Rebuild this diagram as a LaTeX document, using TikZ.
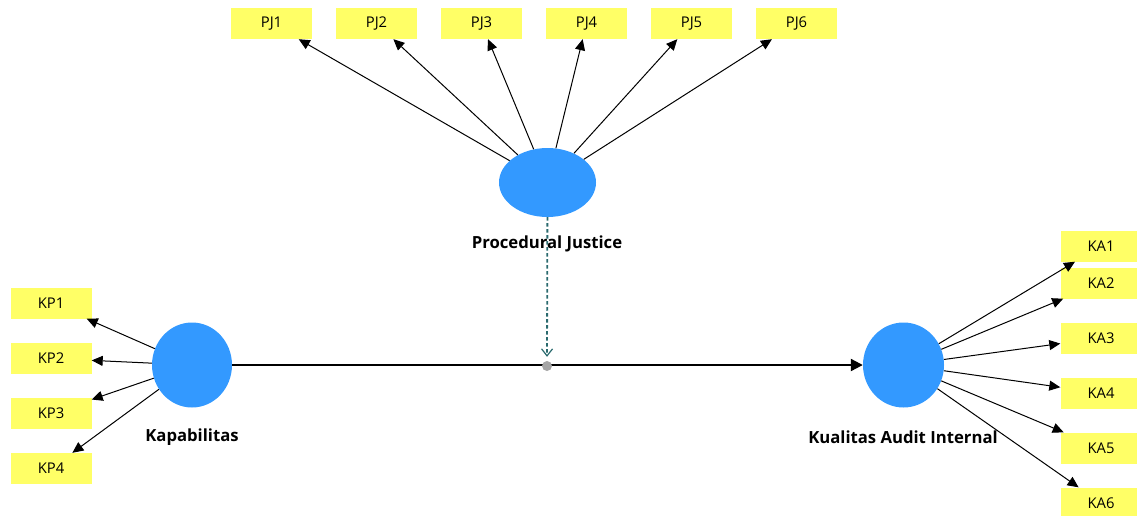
\documentclass[tikz,border=0pt]{standalone}
\usepackage{fontspec}
\setmainfont{Open Sans}
\usetikzlibrary{arrows.meta,shapes.geometric}
\definecolor{boxyellow}{HTML}{FFFF66}
\definecolor{lvblue}{HTML}{3399FF}
\definecolor{modteal}{HTML}{2A6A6E}
\definecolor{dotgray}{HTML}{A6A6A6}
\begin{document}
\begin{tikzpicture}[x=1pt,y=-1pt,
  ind/.style={rectangle, fill=boxyellow, minimum width=81pt, minimum height=31pt, inner sep=0pt, font=\fontsize{14.8}{17}\selectfont},
  lv/.style={ellipse, fill=lvblue, inner sep=0pt},
  lab/.style={font=\bfseries\fontsize{16.7}{19}\selectfont, inner sep=0pt},
  load/.style={-{Triangle[length=11pt,width=10pt]}, line width=1pt, black},
]
\useasboundingbox (0,0) rectangle (1137,515);
% indicators
\node[ind] (PJ1) at (271.5,23.5) {PJ1};
\node[ind] (PJ2) at (376.5,23.5) {PJ2};
\node[ind] (PJ3) at (481.5,23.5) {PJ3};
\node[ind] (PJ4) at (586.5,23.5) {PJ4};
\node[ind] (PJ5) at (691.5,23.5) {PJ5};
\node[ind] (PJ6) at (796.5,23.5) {PJ6};
\node[ind] (KP1) at (51,303) {KP1};
\node[ind] (KP2) at (51,358.5) {KP2};
\node[ind] (KP3) at (51,413.5) {KP3};
\node[ind] (KP4) at (51,468.5) {KP4};
\node[ind] (KA1) at (1101,246) {KA1};
\node[ind] (KA2) at (1101,283) {KA2};
\node[ind] (KA3) at (1101,338) {KA3};
\node[ind] (KA4) at (1101,393) {KA4};
\node[ind] (KA5) at (1101,448) {KA5};
\node[ind] (KA6) at (1101,503) {KA6};
% latent variables
\node[lv, minimum width=97pt, minimum height=69pt] (PJ) at (547.5,182.5) {};
\node[lv, minimum width=80pt, minimum height=85pt] (KP) at (192,365) {};
\node[lv, minimum width=81pt, minimum height=85pt] (KAI) at (903.5,365) {};
% labels
\node[lab] (PJl) at (547,244) {Procedural Justice};
\node[lab] (KPl) at (192,437) {Kapabilitas};
\node[lab] (KAIl) at (903,437) {Kualitas Audit Internal};
% loadings
\foreach \i in {1,...,6} \draw[load] (PJ) -- (PJ\i);
\foreach \i in {1,...,4} \draw[load] (KP) -- (KP\i);
\foreach \i in {1,...,6} \draw[load] (KAI) -- (KA\i);
% structural path
\draw[line width=2.2pt, -{Triangle[length=12pt,width=12pt]}] (KP) -- (KAI);
\node[circle, fill=dotgray, minimum size=10pt, inner sep=0pt] (m) at (547,366) {};
\draw[modteal, line width=1.8pt, dash pattern=on 3.5pt off 2.5pt, shorten >=4pt,
  -{Straight Barb[length=7pt,width=11pt,line width=1.2pt]}] (PJ) -- (m.north);
\end{tikzpicture}
\end{document}
